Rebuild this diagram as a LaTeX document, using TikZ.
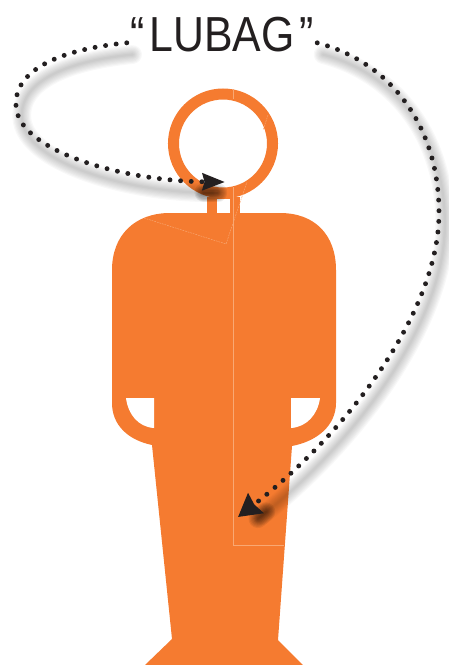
\documentclass[tikz,border=0pt]{standalone}
\usepackage{fontspec}
\setmainfont[FakeStretch=0.87]{Liberation Sans}
\usepackage{tikz}
\usetikzlibrary{arrows.meta, calc}
\definecolor{cOrange}{HTML}{F57B30}
\definecolor{cSeam}{HTML}{F9A873}
\definecolor{cInk}{HTML}{231F20}
\tikzset{
  figure/.style={fill=cOrange, draw=none},
  hole/.style={fill=white, draw=none},
  seam/.style={draw=cSeam, line width=0.4pt},
  dotline/.style={draw=cInk, line width=4.2pt, line cap=round, dash pattern=on 0pt off 9.1pt},
  blur/.style={draw=black, opacity=0.026, line cap=round, line width=#1,
    transform canvas={shift={(5pt,-10pt)}}},
  blob/.style={draw=black, opacity=0.07, line cap=round, line width=#1,
    transform canvas={shift={(5pt,-10pt)}}},
  headl/.style={-{Stealth[length=19pt, width=14pt, inset=1.5pt]}},
  headr/.style={-{Stealth[length=19pt, width=21pt, inset=1.5pt]}},
  title/.style={font=\fontsize{42}{42}\selectfont, text=cInk, inner sep=3pt},
}
\begin{document}
\begin{tikzpicture}[x=0.03cm, y=-0.03cm]
  \useasboundingbox (0,0) rectangle (449,665);

  % Body
  \path[figure] (112,270) .. controls (112,235) and (135,213) .. (170,213)
    -- (280,213) .. controls (315,213) and (336,235) .. (336,270)
    -- (336,403) .. controls (336,425) and (318,441) .. (292,446)
    -- (278,640) -- (303,665) -- (145,665) -- (172,639) -- (152,445)
    .. controls (128,440) and (112,425) .. (112,403) -- cycle;

  % Head and neck
  \node[circle, draw=cOrange, line width=9.4pt, fill=white, minimum size=2.97cm,
        inner sep=0pt] (head) at (223,143.5) {};
  \path[figure] (207,197) rectangle (240,214);
  \path[hole] (217,199) rectangle (230,213);

  % Arm gaps
  \path[hole] (126,398) -- (154,398) -- (154,428) .. controls (138,427) and (128,414) .. cycle;
  \path[hole] (291,398) -- (320,398) .. controls (318,414) and (307,427) .. (291,428) -- cycle;

  % Seams
  \draw[seam] (233.5,89) -- (233.5,99);
  \draw[seam] (233.5,187) -- (233.5,545) -- (284,545);
  \draw[seam, dashed, dash pattern=on 1.5pt off 0.8pt] (144,218) -- (226,244) -- (247,182);
  \draw[seam, dashed, dash pattern=on 1.5pt off 0.8pt] (268,115) -- (263,130);

  % Label
  \node[title] (lubag) at (222,34.5) {“\kern4pt LUBAG\kern4pt”};

  % Ends of the arrows
  \coordinate (neck) at (225,182);
  \coordinate (waist) at (238,517);

  % Shadows
  \foreach \w in {2,4,...,16} {
    \draw[blur=\w pt] (lubag.185) .. controls (55,50) and (14,72) .. (16,106)
      .. controls (18,150) and (120,181) .. (205,181);
    \draw[blur=\w pt] (lubag.-5) .. controls (390,62) and (439,125) .. (439,213)
      .. controls (439,310) and (350,430) .. (256,504);
    \draw[blob=\w pt] (198,181) -- (212,181);
    \draw[blob=\w pt] (260,500) -- (252,507);
  }

  % Arrows
  \draw[dotline, headl] (lubag.185) .. controls (55,50) and (14,72) .. (16,106)
    .. controls (18,150) and (120,181) .. (neck);
  \draw[dotline, headr] (lubag.-5) .. controls (390,62) and (439,125) .. (439,213)
    .. controls (439,310) and (350,430) .. (waist);

\end{tikzpicture}
\end{document}
